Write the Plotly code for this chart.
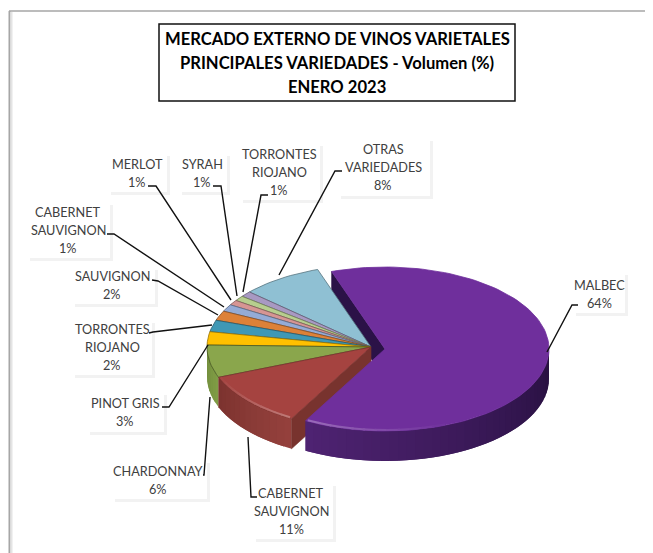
import math
import plotly.graph_objects as go

# ---- data ----
names = ["MALBEC", "CABERNET<br>SAUVIGNON", "CHARDONNAY", "PINOT GRIS", "TORRONTES<br>RIOJANO",
         "SAUVIGNON", "CABERNET<br>SAUVIGNON", "MERLOT", "SYRAH", "TORRONTES<br>RIOJANO", "OTRAS<br>VARIEDADES"]
shares = [63.2, 10.9, 6.4, 2.6, 2.3, 1.9, 1.4, 1.0, 1.0, 1.1, 8.0]
percent_labels = ["64%", "11%", "6%", "3%", "2%", "2%", "1%", "1%", "1%", "1%", "8%"]
title_lines = ["MERCADO EXTERNO DE VINOS VARIETALES", "PRINCIPALES VARIEDADES - Volumen (%)", "ENERO 2023"]
top_colors = ["#6F2F9C", "#A54340", "#8AA64C", "#FFC000", "#3F98B5", "#DD8138", "#94ABD6", "#D69593", "#B7CE8E", "#A899C2", "#8FC0D3"]
wall_start = ["#4F2373", "#94403C", "#7F9C45", "#D9A300", "#357F98", "#B96C2F", "#7D90B5", "#B47D7B", "#9AAD77", "#8E81A3", "#78A2B2"]
wall_end = ["#27103F", "#7A322E", "#6F8A3A", "#B98B00", "#2D6C81", "#9D5C28", "#6A7A9A", "#996A68", "#839365", "#786E8A", "#668997"]

# ---- layout of the drawing (page pixels) ----
W, H = 653, 553
BODY = 8  # the page's own margin
CX, CY, RX, RY, DEPTH = 371, 347, 164, 82, 30
START_DEG = -19
EXPLODE = {0: (14, 2)}
LINE_H = 18.2

label_centers = [(599, 294), (291, 511), (158, 480), (125, 412), (112, 347), (112, 285), (68, 230),
                 (137, 173), (202, 173), (279, 172), (383, 167)]
label_boxes = [(573, 272, 625, 313), (253, 483, 333, 539), (112, 460, 207, 499), (87, 392, 164, 432),
               (72, 320, 152, 375), (72, 267, 155, 304), (27, 202, 110, 258), (108, 153, 167, 192),
               (179, 153, 227, 192), (240, 143, 320, 200), (338, 138, 430, 196)]
leaders = [
    [(578, 305), (572, 305), (547, 352)],
    [(257, 497), (251, 497), (248, 437)],
    [(203, 475), (204, 475), (210, 397)],
    [(162, 407), (169, 407), (208, 345)],
    [(149, 333), (153, 332), (212, 325)],
    [(152, 280), (158, 281), (218, 315)],
    [(107, 234), (114, 234), (224, 307)],
    [(148, 186), (156, 186), (231, 300)],
    [(213, 186), (221, 186), (237, 296)],
    [(268, 195), (261, 195), (243, 292)],
    [(342, 171), (335, 171), (279, 275)],
]

total = sum(shares)
edges = [START_DEG]
for v in shares:
    edges.append(edges[-1] + 360 * v / total)


def pt(cx, cy, deg, r=1.0, dy=0):
    a = math.radians(deg)
    return cx + RX * r * math.sin(a), cy - RY * r * math.cos(a) + dy


def mix(c1, c2, t):
    a = [int(c1[i:i + 2], 16) for i in (1, 3, 5)]
    b = [int(c2[i:i + 2], 16) for i in (1, 3, 5)]
    return "#%02x%02x%02x" % tuple(round(a[i] + (b[i] - a[i]) * t) for i in range(3))


fig = go.Figure()


def poly(points, color, line=None, lw=0.6):
    fig.add_trace(go.Scatter(x=[p[0] for p in points] + [points[0][0]], y=[p[1] for p in points] + [points[0][1]],
                             mode="lines", fill="toself", fillcolor=color,
                             line=dict(color=line or color, width=lw), hoverinfo="skip", showlegend=False))


def center(i):
    ox, oy = EXPLODE.get(i, (0, 0))
    return CX + ox, CY + oy


def arc(i, a0, a1, n=None, r=1.0, dy=0):
    cx, cy = center(i)
    n = n or max(3, int(abs(a1 - a0) / 2))
    return [pt(cx, cy, a0 + (a1 - a0) * k / n, r, dy) for k in range(n + 1)]


def cut_face(i, deg, color):
    cx, cy = center(i)
    o = pt(cx, cy, deg)
    poly([o, (cx, cy), (cx, cy + DEPTH), (o[0], o[1] + DEPTH)], color)


def outer_wall(i):
    a0, a1 = edges[i], edges[i + 1]
    lo, hi = max(a0, 90), min(a1, 270)
    if lo >= hi:
        return
    n = max(4, int((hi - lo) / 3))
    for k in range(n):
        s0 = lo + (hi - lo) * k / n
        s1 = min(hi, lo + (hi - lo) * (k + 2) / n)  # overlaps the next strip, so no seams show
        col = mix(wall_start[i], wall_end[i], 1 - (s0 - lo) / (hi - lo))
        if a0 > 90:
            col = mix(wall_end[i], wall_start[i], 1 - (s0 - lo) / (hi - lo))
        poly(arc(i, s0, s1, 4) + arc(i, s1, s0, 4, dy=DEPTH), col, lw=0)


def top_face(i, line=None):
    cx, cy = center(i)
    poly([(cx, cy)] + arc(i, edges[i], edges[i + 1]), top_colors[i], line=line or top_colors[i], lw=0.8)


# back part of the exploded slice, seen through the gap
cut_face(0, edges[0], "#2B1247")

# remaining slices: walls first, then tops from back to front
for i in range(len(shares) - 1, 2, -1):
    outer_wall(i)
    top_face(i, mix(top_colors[i], "#000000", 0.4))
outer_wall(2)
outer_wall(1)
cut_face(1, edges[1], "#78332E")
top_face(2, "#45561F")
top_face(1, "#7A322E")

# exploded slice on top
outer_wall(0)
top_face(0)


# soft rim highlights on the front edge, fading along the arc
def rim(i, a_bright, a_faint, n=12):
    for k in range(n):
        pts = arc(i, a_bright + (a_faint - a_bright) * k / n, a_bright + (a_faint - a_bright) * (k + 1.2) / n, 2, r=0.988)
        col = mix(top_colors[i], "#FFFFFF", 0.28 * (1 - k / n))
        fig.add_trace(go.Scatter(x=[p[0] for p in pts], y=[p[1] for p in pts], mode="lines",
                                 line=dict(color=col, width=2), hoverinfo="skip", showlegend=False))


rim(0, edges[1] - 0.5, edges[1] - 50)
rim(1, edges[1] + 1, edges[2] - 1)

# leader lines
for pts in leaders:
    fig.add_trace(go.Scatter(x=[p[0] for p in pts], y=[p[1] for p in pts], mode="lines",
                             line=dict(color="#111111", width=1.4), hoverinfo="skip", showlegend=False))

shapes = []
# outer frame
shapes += [dict(type="line", x0=9, x1=W, y0=11, y1=11, line=dict(color="#A6A6A6", width=1.5), layer="below"),
           dict(type="line", x0=9.5, x1=9.5, y0=11, y1=H, line=dict(color="#A6A6A6", width=2), layer="below"),
           dict(type="line", x0=11.5, x1=11.5, y0=12, y1=H, line=dict(color="#E4E4E4", width=2), layer="below")]
# title box
shapes.append(dict(type="rect", x0=159, x1=515, y0=24, y1=101, line=dict(color="#111111", width=1.5),
                   fillcolor="white", layer="below"))
# label boxes with their faint shadows
for (x0, y0, x1, y1) in label_boxes:
    shapes.append(dict(type="rect", x0=x0 + 3, x1=x1 + 3, y0=y0 + 3, y1=y1 + 3, fillcolor="rgba(0,0,0,0.05)",
                       line=dict(width=0), layer="below"))
    shapes.append(dict(type="rect", x0=x0, x1=x1, y0=y0, y1=y1, fillcolor="white", line=dict(width=0), layer="below"))

annotations = []
for k, line in enumerate(title_lines):
    annotations.append(dict(x=337, y=39 + 24 * k, xref="x", yref="y", showarrow=False, text=line,
                            font=dict(family="Lato", size=16.6, color="#000000", weight="bold")))
for name, pct, (x, y) in zip(names, percent_labels, label_centers):
    lines = name.split("<br>") + [pct]
    for k, line in enumerate(lines):
        annotations.append(dict(x=x, y=y + (k - (len(lines) - 1) / 2) * LINE_H, xref="x", yref="y", showarrow=False,
                                text=line, font=dict(family="Lato", size=12.7, color="#404040")))

fig.update_layout(width=W - BODY, height=H - BODY, margin=dict(l=0, r=0, t=0, b=0), paper_bgcolor="white",
                  plot_bgcolor="white", showlegend=False, shapes=shapes, annotations=annotations,
                  xaxis=dict(range=[BODY, W], visible=False, fixedrange=True),
                  yaxis=dict(range=[H, BODY], visible=False, fixedrange=True))
fig.write_html("out.html", config={"displayModeBar": False})
